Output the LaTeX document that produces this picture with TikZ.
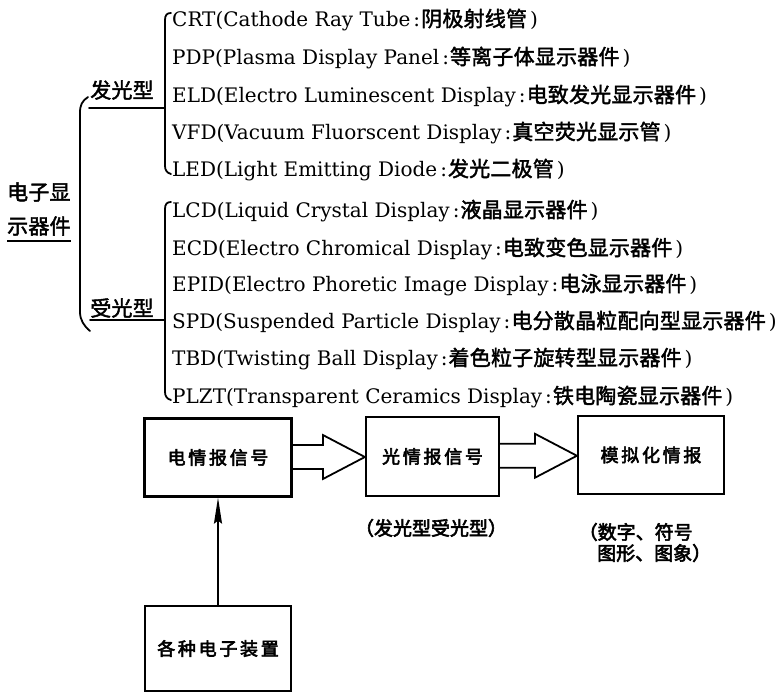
\documentclass[tikz,border=0pt]{standalone}
\usepackage{fontspec}
\setmainfont{DejaVu Serif}
\newfontfamily\cjk[FakeBold=2,LetterSpace=1]{Noto Sans CJK SC}
\newfontfamily\cjkb[FakeBold=3,LetterSpace=15]{Noto Sans CJK SC}
\newfontfamily\cjkc[FakeBold=3]{Noto Sans CJK SC}
\usetikzlibrary{arrows.meta,calc}
\newcommand\Ch[1]{{\cjk\fontsize{21}{21}\selectfont #1}}
\newcommand\Ent[2]{#1\hspace{3pt}:\hspace{1pt}\Ch{#2}\hspace{3pt})}
\tikzset{
  item/.style={anchor=base west, inner sep=0pt, font=\fontsize{20}{20}\selectfont},
  lab/.style={inner sep=0pt, font=\cjk\fontsize{21}{21}\selectfont},
  brk/.style={line width=1.8pt, line cap=round, line join=round},
  box/.style={draw, line width=2.2pt, inner sep=0pt, font=\cjkb\fontsize{18}{18}\selectfont},
  note/.style={inner sep=0pt, font=\cjkc\fontsize{19}{19}\selectfont},
  harrow/.style={draw, line width=1.8pt, line join=miter},
}
\newcommand\hollow[2]{%
  \draw[harrow] let \p1=(#1.east), \p2=(#2.west), \n1={(\y1+\y2)/2} in
    (\x1,\n1+12pt) -- (\x2-42pt,\n1+12pt) -- (\x2-42pt,\n1+22pt) -- (\x2,\n1)
    -- (\x2-42pt,\n1-22pt) -- (\x2-42pt,\n1-12pt) -- (\x1,\n1-12pt);}
\begin{document}
\begin{tikzpicture}[x=1pt,y=-1pt]
\useasboundingbox (0,0) rectangle (779,694);
% left labels
\node[lab, anchor=west] (t1) at (7,192) {电子显};
\node[lab, anchor=west] (t2) at (7,226) {示器件};
\draw[line width=1.3pt] (t2.south west |- 0,241) -- (t2.south east |- 0,241);
\node[lab] (fg) at (122,90) {发光型};
\node[lab] (sg) at (122,308) {受光型};
% main bracket
\draw[brk] (88,97) .. controls (82,101) and (80,105) .. (80,113) -- (80,312)
  .. controls (80,320) and (84,326) .. (90,331);
% bracket A
\draw[brk] (89,108) -- (165,108);
\draw[brk] (171,13) .. controls (167,13) and (165,15) .. (165,20) -- (165,166)
  .. controls (165,170) and (167,173) .. (171,174);
% bracket B
\draw[brk] (90,320) -- (165,320);
\draw[brk] (171,202) .. controls (167,202) and (165,204) .. (165,209) -- (165,392)
  .. controls (165,396) and (167,399) .. (171,400);
% items group 1
\node[item] (crt) at (172,26.5) {\Ent{CRT(Cathode Ray Tube}{阴极射线管}};
\node[item] (pdp) at (172,64.5) {\Ent{PDP(Plasma Display Panel}{等离子体显示器件}};
\node[item] (eld) at (172,102.5) {\Ent{ELD(Electro Luminescent Display}{电致发光显示器件}};
\node[item] (vfd) at (172,139.5) {\Ent{VFD(Vacuum Fluorscent Display}{真空荧光显示管}};
\node[item] (led) at (172,176.5) {\Ent{LED(Light Emitting Diode}{发光二极管}};
% items group 2
\node[item] (lcd) at (172,217.5) {\Ent{LCD(Liquid Crystal Display}{液晶显示器件}};
\node[item] (ecd) at (172,255.5) {\Ent{ECD(Electro Chromical Display}{电致变色显示器件}};
\node[item] (epid) at (172,291.5) {\Ent{EPID(Electro Phoretic Image Display}{电泳显示器件}};
\node[item] (spd) at (172,328.5) {\Ent{SPD(Suspended Particle Display}{电分散晶粒配向型显示器件}};
\node[item] (tbd) at (172,365.5) {\Ent{TBD(Twisting Ball Display}{着色粒子旋转型显示器件}};
\node[item] (plzt) at (172,403.5) {\Ent{PLZT(Transparent Ceramics Display}{铁电陶瓷显示器件}};
% boxes
\node[box, minimum width=147pt, minimum height=78pt] (b1) at (218,457.5) {电情报信号};
\node[box, minimum width=133pt, minimum height=79pt] (b2) at (432.5,456.5) {光情报信号};
\node[box, minimum width=146pt, minimum height=78pt] (b3) at (651,455) {模拟化情报};
\node[box, minimum width=146pt, minimum height=85pt] (b4) at (218,648.5) {各种电子装置};
% arrows
\hollow{b1}{b2}
\hollow{b2}{b3}
\draw[line width=1.8pt, -{Stealth[length=26pt,width=8pt,inset=3pt]}] (b4.north) -- (b1.south);
% notes
\node[note] (n1) at (431,528) {（发光型受光型）};
\node[note, anchor=west] (n2) at (578.5,532) {（数字、符号};
\node[note, anchor=west] (n3) at (597,553) {图形、图象）};
\end{tikzpicture}
\end{document}
